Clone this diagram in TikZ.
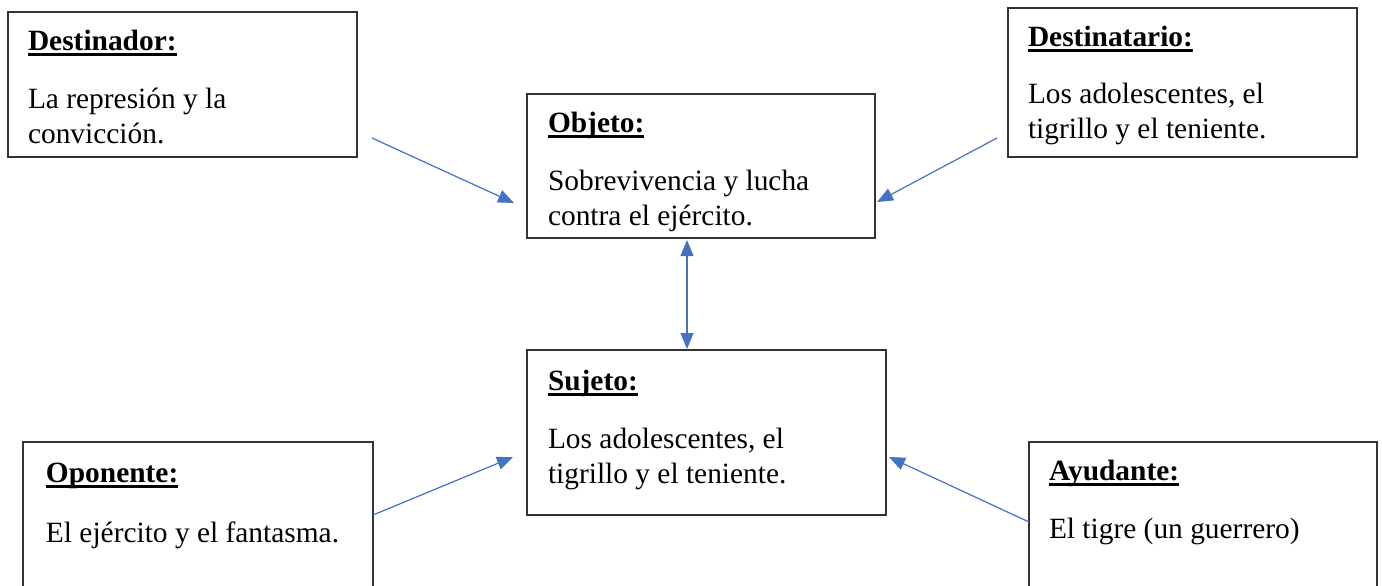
\documentclass[tikz,border=0pt]{standalone}
\usepackage{fontspec}
\setmainfont{Liberation Serif}
\usetikzlibrary{arrows.meta}
\definecolor{arrowblue}{HTML}{4472C4}
\definecolor{boxgray}{HTML}{333333}
\newcommand{\hdr}[1]{\setbox0\hbox{\bfseries #1}\rlap{\rule[-2.9pt]{\wd0}{1.4pt}}\box0}
\begin{document}
\begin{tikzpicture}[x=0.5pt,y=-0.5pt,
  box/.style={draw=boxgray,line width=0.8pt,rectangle,inner sep=0pt,outer sep=0pt},
  txt/.style={anchor=base west,inner sep=0pt,outer sep=0pt,font=\fontsize{14.7}{16}\selectfont},
  conn/.style={draw=arrowblue,line width=0.6pt,-{Triangle[length=8pt,width=6.5pt]}},
  dconn/.style={draw=arrowblue,line width=0.6pt,{Triangle[length=8pt,width=6.5pt]}-{Triangle[length=8pt,width=6.5pt]}}]
\clip (0,0) rectangle (1382,585);
\fill[white] (0,0) rectangle (1382,585);
% boxes
\node[box,minimum width=174.5pt,minimum height=72.5pt] (destinador) at (182.5,84.5) {};
\node[box,minimum width=174.5pt,minimum height=74.5pt] (destinatario) at (1182.5,82.5) {};
\node[box,minimum width=174pt,minimum height=72pt] (objeto) at (701,166) {};
\node[box,minimum width=179.5pt,minimum height=82.5pt] (sujeto) at (706.5,432.5) {};
\node[box,minimum width=175pt,minimum height=79pt] (oponente) at (198,521) {};
\node[box,minimum width=174pt,minimum height=79pt] (ayudante) at (1203,521) {};
% texts
\node[txt] (t1h) at (28,50) {\hdr{Destinador:}};
\node[txt] (t1a) at (28,108) {La represión y la};
\node[txt] (t1b) at (28,143) {convicción.};
\node[txt] (t2h) at (1028,46) {\hdr{Destinatario:}};
\node[txt] (t2a) at (1028,103) {Los adolescentes, el};
\node[txt] (t2b) at (1028,138) {tigrillo y el teniente.};
\node[txt] (t3h) at (548,132) {\hdr{Objeto:}};
\node[txt] (t3a) at (548,190) {Sobrevivencia y lucha};
\node[txt] (t3b) at (548,225) {contra el ejército.};
\node[txt] (t4h) at (548,390) {\hdr{Sujeto:}};
\node[txt] (t4a) at (548,448) {Los adolescentes, el};
\node[txt] (t4b) at (548,483) {tigrillo y el teniente.};
\node[txt] (t5h) at (46,482) {\hdr{Oponente:}};
\node[txt] (t5a) at (46,542) {El ejército y el fantasma.};
\node[txt] (t6h) at (1049,480) {\hdr{Ayudante:}};
\node[txt] (t6a) at (1049,538) {El tigre (un guerrero)};
% connector ends
\coordinate (a1s) at (372,138);
\coordinate (a1e) at (514,203);
\coordinate (a2s) at (997,138);
\coordinate (a2e) at (877,202);
\coordinate (a3s) at (687,240);
\coordinate (a3e) at (687,349);
\coordinate (a4s) at (373,515);
\coordinate (a4e) at (513,457);
\coordinate (a5s) at (1029,522);
\coordinate (a5e) at (889,457);
\draw[conn] (a1s) -- (a1e);
\draw[conn] (a2s) -- (a2e);
\draw[dconn] (a3s) -- (a3e);
\draw[conn] (a4s) -- (a4e);
\draw[conn] (a5s) -- (a5e);
\end{tikzpicture}
\end{document}
